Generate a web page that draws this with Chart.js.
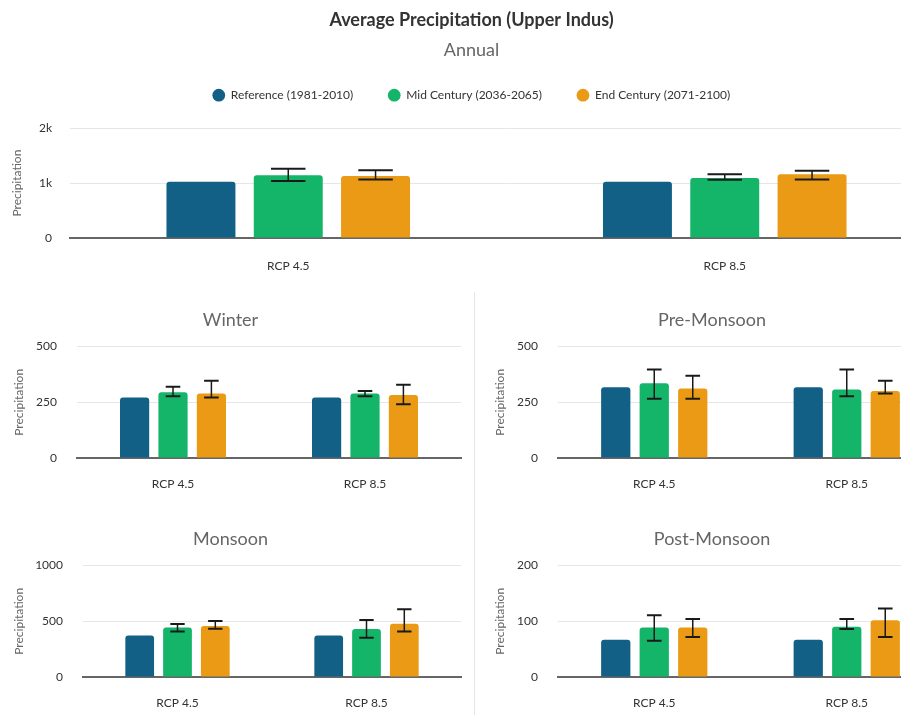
<!DOCTYPE html>
<html>
<head>
<meta charset="utf-8">
<title>Average Precipitation (Upper Indus)</title>
<script src="https://cdn.jsdelivr.net/npm/chart.js@4.4.0/dist/chart.umd.min.js"></script>
<style>
  body { margin: 0; overflow: hidden; background: #fff; }
  #page { position: relative; width: 950px; height: 740px; }
  #page canvas { position: absolute; }
  #divider { position: absolute; left: 474px; top: 292px; width: 1px; height: 450px; background: #e6e6e6; }
</style>
</head>
<body>
<div id="page">
  <canvas id="annual" width="950" height="292" style="left:0;top:0"></canvas>
  <div id="divider"></div>
  <canvas id="winter" width="466" height="219" style="left:0;top:293px"></canvas>
  <canvas id="premonsoon" width="466" height="219" style="left:481px;top:293px"></canvas>
  <canvas id="monsoon" width="466" height="219" style="left:0;top:512px"></canvas>
  <canvas id="postmonsoon" width="466" height="219" style="left:481px;top:512px"></canvas>
</div>
<script>
// categories and series
const scenarios = ['RCP 4.5', 'RCP 8.5'];
const periods = ['Reference (1981-2010)', 'Mid Century (2036-2065)', 'End Century (2071-2100)'];
const colors = ['#136087', '#14b469', '#ea9a14'];

// annual
const annualRef = [1023, 1023];
const annualMid = [1143, 1095];
const annualMidLow = [1036, 1059];
const annualMidHigh = [1261, 1161];
const annualEnd = [1130, 1161];
const annualEndLow = [1064, 1064];
const annualEndHigh = [1232, 1225];

// winter
const winterRef = [272, 272];
const winterMid = [295, 289];
const winterMidLow = [277, 277];
const winterMidHigh = [320, 301];
const winterEnd = [289, 283];
const winterEndLow = [272, 241];
const winterEndHigh = [347, 329];

// pre-monsoon
const preRef = [317, 317];
const preMid = [336, 307];
const preMidLow = [266, 277];
const preMidHigh = [397, 397];
const preEnd = [312, 301];
const preEndLow = [266, 289];
const preEndHigh = [369, 347];

// monsoon
const monsoonRef = [373, 373];
const monsoonMid = [445, 430];
const monsoonMidLow = [409, 352];
const monsoonMidHigh = [476, 512];
const monsoonEnd = [458, 479];
const monsoonEndLow = [433, 409];
const monsoonEndHigh = [503, 609];

// post-monsoon
const postRef = [67, 67];
const postMid = [89, 90];
const postMidLow = [65, 86];
const postMidHigh = [111, 104];
const postEnd = [89, 102];
const postEndLow = [72, 72];
const postEndHigh = [104, 123];

Chart.defaults.font.family = "Lato, 'Open Sans', sans-serif";

// whiskers drawn from the y scale of each chart
const errorBars = {
  id: 'errorBars',
  afterDatasetsDraw(chart) {
    const ctx = chart.ctx;
    const y = chart.scales.y;
    chart.data.datasets.forEach((ds, i) => {
      if (!ds.errLow) return;
      chart.getDatasetMeta(i).data.forEach((bar, j) => {
        const half = bar.width / 4;
        const lo = y.getPixelForValue(ds.errLow[j]);
        const hi = y.getPixelForValue(ds.errHigh[j]);
        ctx.save();
        ctx.strokeStyle = '#1a1a1a';
        ctx.lineWidth = 1.5;
        ctx.beginPath();
        ctx.moveTo(bar.x, lo);
        ctx.lineTo(bar.x, hi);
        ctx.stroke();
        ctx.lineWidth = 2;
        ctx.beginPath();
        ctx.moveTo(bar.x - half, hi);
        ctx.lineTo(bar.x + half, hi);
        ctx.moveTo(bar.x - half, lo);
        ctx.lineTo(bar.x + half, lo);
        ctx.stroke();
        ctx.restore();
      });
    });
  }
};

// extra room under the legend
const legendGap = {
  id: 'legendGap',
  beforeInit(chart) {
    const lg = chart.legend;
    if (!lg) return;
    const fit = lg.fit;
    lg.fit = function () {
      fit.call(this);
      this.height += 17;
    };
  }
};

function build(id, cfg) {
  const main = !!cfg.main;
  const datasets = [
    { label: periods[0], data: cfg.ref, backgroundColor: colors[0] },
    { label: periods[1], data: cfg.mid, backgroundColor: colors[1], errLow: cfg.midLow, errHigh: cfg.midHigh },
    { label: periods[2], data: cfg.end, backgroundColor: colors[2], errLow: cfg.endLow, errHigh: cfg.endHigh }
  ];
  datasets.forEach(d => {
    d.borderRadius = 3;
    d.borderSkipped = 'start';
    d.categoryPercentage = 0.6;
    d.barPercentage = main ? 0.79 : 0.76;
  });

  return new Chart(document.getElementById(id), {
    type: 'bar',
    data: { labels: scenarios, datasets: datasets },
    options: {
      responsive: false,
      animation: false,
      layout: { padding: { right: cfg.padRight, bottom: main ? 19 : 21 } },
      plugins: {
        title: {
          display: main,
          text: 'Average Precipitation (Upper Indus)',
          color: '#333',
          font: { size: 18, weight: 'bold' },
          padding: { top: 9, bottom: 8 }
        },
        subtitle: {
          display: true,
          text: cfg.subtitle,
          color: '#666',
          font: { size: 18 },
          padding: main ? { top: 1, bottom: -7 } : { top: 16, bottom: 16 }
        },
        legend: {
          display: main,
          labels: {
            usePointStyle: true,
            pointStyle: 'circle',
            boxWidth: 12,
            boxHeight: 9,
            padding: 35,
            color: '#333',
            font: { size: 12 }
          }
        },
        tooltip: { enabled: false }
      },
      scales: {
        x: {
          afterFit(scale) { scale.height = main ? 35 : 33; },
          grid: { display: false, drawTicks: false },
          border: { display: true, color: '#666', width: 2 },
          ticks: { color: '#333', font: { size: 12 }, padding: main ? 21 : 19 }
        },
        y: {
          min: 0,
          max: cfg.max,
          afterFit(scale) { scale.width = cfg.yWidth; },
          grid: {
            color: c => (c.tick && c.tick.value === 0) ? 'rgba(0,0,0,0)' : '#e6e6e6',
            drawTicks: false
          },
          border: { display: false },
          ticks: {
            stepSize: cfg.step,
            color: '#333',
            font: { size: 12 },
            padding: main ? 18 : 20,
            callback: cfg.fmt || (v => v)
          },
          title: {
            display: true,
            text: 'Precipitation',
            color: '#666',
            font: { size: 12 },
            padding: { top: main ? 10 : 12, bottom: 0 }
          }
        }
      }
    },
    plugins: main ? [errorBars, legendGap] : [errorBars]
  });
}

build('annual', {
  main: true, subtitle: 'Annual', max: 2000, step: 1000, yWidth: 70, padRight: 7,
  fmt: v => v === 0 ? '0' : (v / 1000) + 'k',
  ref: annualRef, mid: annualMid, midLow: annualMidLow, midHigh: annualMidHigh,
  end: annualEnd, endLow: annualEndLow, endHigh: annualEndHigh
});
build('winter', {
  subtitle: 'Winter', max: 500, step: 250, yWidth: 77, padRight: 5,
  ref: winterRef, mid: winterMid, midLow: winterMidLow, midHigh: winterMidHigh,
  end: winterEnd, endLow: winterEndLow, endHigh: winterEndHigh
});
build('premonsoon', {
  subtitle: 'Pre-Monsoon', max: 500, step: 250, yWidth: 77, padRight: 4,
  ref: preRef, mid: preMid, midLow: preMidLow, midHigh: preMidHigh,
  end: preEnd, endLow: preEndLow, endHigh: preEndHigh
});
build('monsoon', {
  subtitle: 'Monsoon', max: 1000, step: 500, yWidth: 83, padRight: 5,
  ref: monsoonRef, mid: monsoonMid, midLow: monsoonMidLow, midHigh: monsoonMidHigh,
  end: monsoonEnd, endLow: monsoonEndLow, endHigh: monsoonEndHigh
});
build('postmonsoon', {
  subtitle: 'Post-Monsoon', max: 200, step: 100, yWidth: 77, padRight: 4,
  ref: postRef, mid: postMid, midLow: postMidLow, midHigh: postMidHigh,
  end: postEnd, endLow: postEndLow, endHigh: postEndHigh
});
</script>
</body>
</html>
